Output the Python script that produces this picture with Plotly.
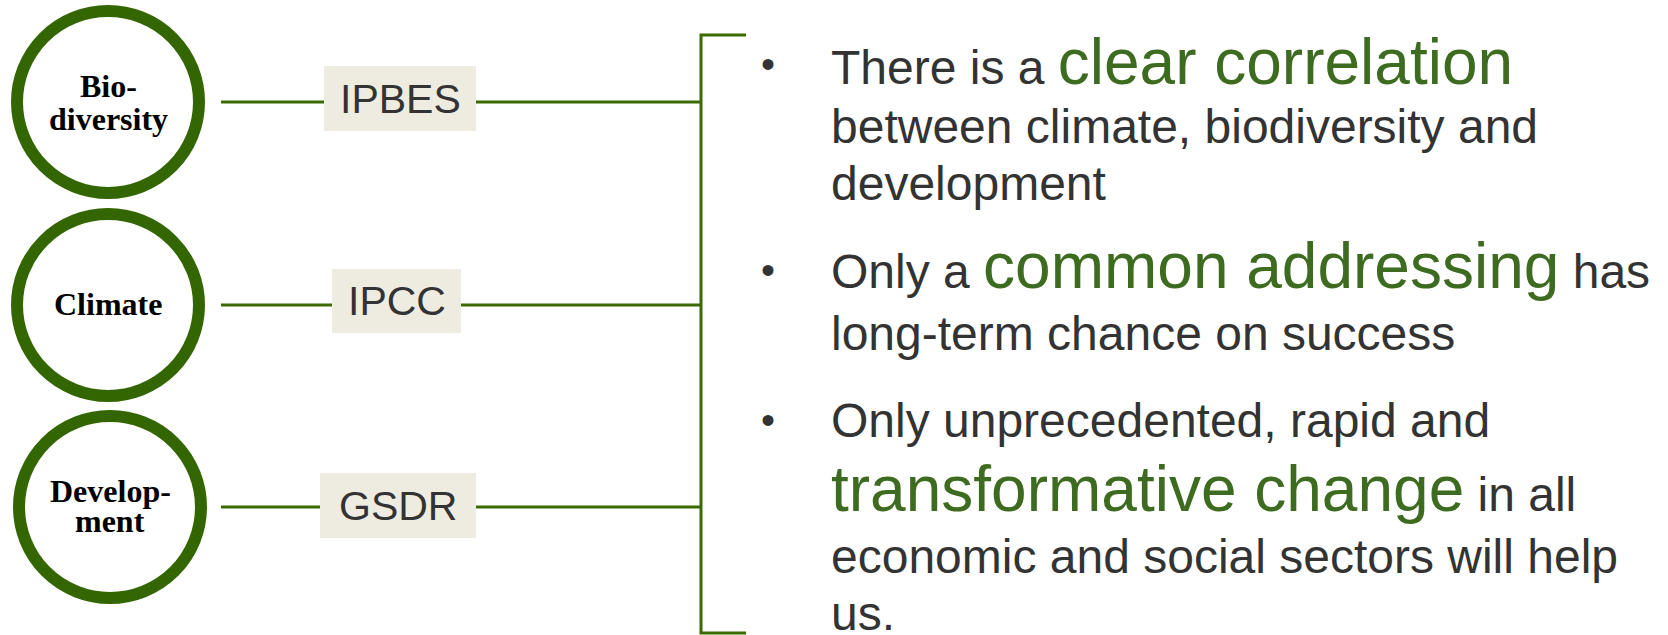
import plotly.graph_objects as go

# ---- content ----
circle_lines = [["Bio-", "diversity"], ["Climate"], ["Develop-", "ment"]]
circle_line_y = [[86, 119], [304], [491, 521]]
panel_names = ["IPBES", "IPCC", "GSDR"]
row_y = [102, 305, 507]
box_x = [(324, 476), (332, 461), (320, 476)]
box_y = [(66, 131), (269, 333), (473, 538)]

G = "#3d6b1f"   # highlight green
DK = "#333333"

def hl(t):
    return f'<span style="font-size:64px;color:{G}">{t}</span>'

bullet_lines = [
    # (text, center y)
    ("There is a " + hl("clear correlation"), 62),
    ("between climate, biodiversity and", 126),
    ("development", 183),
    ("Only a " + hl("common addressing") + " has", 266),
    ("long-term chance on success", 333),
    ("Only unprecedented, rapid and", 420),
    (hl("transformative change") + " in all", 489),
    ("economic and social sectors will help", 556),
    ("us.", 613),
]
bullet_y = [64, 270, 420]

W, H = 1668, 635
fig = go.Figure()
fig.add_trace(go.Scatter(x=[0, W], y=[0, H], mode="markers", marker=dict(opacity=0), hoverinfo="skip", showlegend=False))

shapes = []
ann = []
for i, y in enumerate(row_y):
    cx = 108 if i < 2 else 110
    r = 91
    shapes.append(dict(type="circle", xref="x", yref="y", x0=cx - r, x1=cx + r, y0=y - r, y1=y + r,
                       line=dict(color="#336600", width=12), fillcolor="white", layer="above"))
    for t, ty in zip(circle_lines[i], circle_line_y[i]):
        ann.append(dict(x=cx, y=ty, xref="x", yref="y", text=f"<b>{t}</b>", showarrow=False,
                        font=dict(family="Liberation Serif", size=32, color="black"), xanchor="center", yanchor="middle"))
    # connector lines
    shapes.append(dict(type="line", xref="x", yref="y", x0=221, x1=701, y0=y, y1=y,
                       line=dict(color="#3a6b00", width=3), layer="below"))
    bx0, bx1 = box_x[i]
    by0, by1 = box_y[i]
    shapes.append(dict(type="rect", xref="x", yref="y", x0=bx0, x1=bx1, y0=by0, y1=by1,
                       line=dict(width=0), fillcolor="#eeece1", layer="above"))
    ann.append(dict(x=(bx0 + bx1) / 2, y=(by0 + by1) / 2, xref="x", yref="y", text=panel_names[i], showarrow=False,
                    font=dict(family="Liberation Sans", size=41, color=DK), xanchor="center", yanchor="middle"))

# bracket
shapes.append(dict(type="path", xref="x", yref="y", path="M 746 35 L 701 35 L 701 633 L 746 633",
                   line=dict(color="#3a6b00", width=3)))

for t, y in bullet_lines:
    ann.append(dict(x=829, y=y, xref="x", yref="y", text=t, showarrow=False,
                    font=dict(family="Liberation Sans", size=48, color=DK), xanchor="left", yanchor="middle"))
for y in bullet_y:
    ann.append(dict(x=768, y=y, xref="x", yref="y", text="•", showarrow=False,
                    font=dict(family="Liberation Sans", size=40, color=DK), xanchor="center", yanchor="middle"))

fig.update_layout(width=W, height=H, margin=dict(l=0, r=0, t=0, b=0),
                  paper_bgcolor="white", plot_bgcolor="white",
                  shapes=shapes, annotations=ann,
                  xaxis=dict(range=[0, W], visible=False, fixedrange=True),
                  yaxis=dict(range=[H, 0], visible=False, fixedrange=True))
fig.write_html("out.html", config={"displayModeBar": False},
               post_script="document.body.style.margin='0px';document.body.style.overflow='hidden';")
